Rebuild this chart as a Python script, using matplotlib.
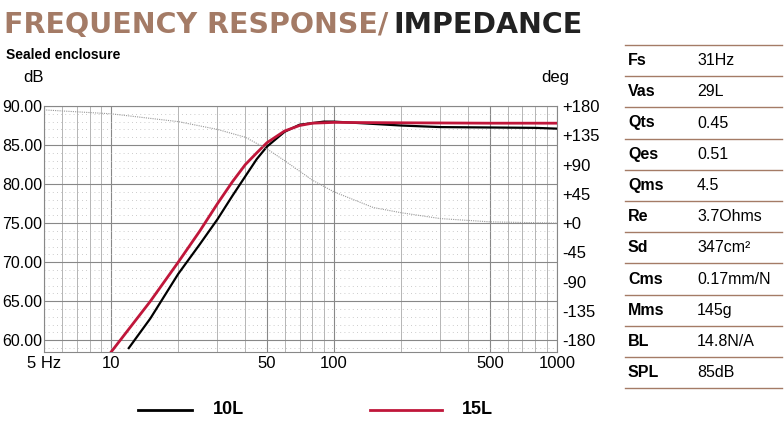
import matplotlib.pyplot as plt
import matplotlib.ticker as mt

freq_red = [10, 15, 20, 25, 30, 35, 40, 45, 50, 60, 70, 80, 100, 200, 500, 1000]
spl_15l = [58.5, 65.0, 70.0, 74.0, 77.5, 80.3, 82.5, 84.0, 85.3, 86.8, 87.5, 87.8, 87.9, 87.85, 87.8, 87.8]
freq_blk = [12, 15, 20, 25, 30, 35, 40, 45, 50, 60, 70, 90, 100, 200, 300, 500, 800, 1000]
spl_10l = [59.0, 62.8, 68.5, 72.3, 75.5, 78.5, 81.0, 83.2, 84.8, 86.7, 87.6, 88.0, 88.0, 87.5, 87.3, 87.25, 87.2, 87.1]
freq_ph = [5, 10, 20, 30, 40, 50, 60, 80, 100, 150, 200, 300, 500, 1000]
phase = [174, 168, 156, 144, 132, 114, 96, 66, 48, 24, 16, 7, 2, 0]

params = ["Fs", "Vas", "Qts", "Qes", "Qms", "Re", "Sd", "Cms", "Mms", "BL", "SPL"]
values = ["31Hz", "29L", "0.45", "0.51", "4.5", "3.7Ohms", "347cm²", "0.17mm/N", "145g", "14.8N/A", "85dB"]

plt.rcParams["font.family"] = ["Liberation Sans", "DejaVu Sans"]
brown = "#a47b66"
fig = plt.figure(figsize=(7.84, 4.21), dpi=100)
ax = fig.add_axes([44/784, 1-352/421, 513/784, 246/421])
ax.set_xscale("log")
ax.set_xlim(5, 1000)
ax.set_ylim(58.5, 90)
ax.set_xticks([5, 10, 50, 100, 500, 1000])
ax.set_xticklabels(["5 Hz", "10", "50", "100", "500", "1000"])
ax.xaxis.set_minor_locator(mt.LogLocator(subs=range(2, 10)))
ax.xaxis.set_minor_formatter(mt.NullFormatter())
ax.set_yticks([60, 65, 70, 75, 80, 85, 90])
ax.set_yticklabels(["%.2f" % v for v in [60, 65, 70, 75, 80, 85, 90]])
ax.yaxis.set_minor_locator(mt.MultipleLocator(1))
ax.grid(which="major", color="#888888", lw=0.8)
ax.grid(which="minor", axis="x", color="#aaaaaa", lw=0.6)
ax.grid(which="minor", axis="y", color="#bbbbbb", lw=0.6, ls=(0, (1, 4)))
ax.tick_params(axis="y", length=0, labelsize=11.5, which="both", pad=1)
ax.tick_params(axis="x", length=0, labelsize=12, which="both", pad=3)
for s in ax.spines.values():
    s.set_color("#888888")

ax2 = ax.twinx()
ax2.set_ylim((58.5 - 75) * 12, 180)
ax2.set_yticks(range(-180, 181, 45))
ax2.set_yticklabels([("+%d" % v if v >= 0 else "%d" % v) for v in range(-180, 181, 45)])
ax2.tick_params(length=0, labelsize=12)
ax2.plot(freq_ph, phase, color="#999999", lw=0.8, ls=(0, (1, 1)))
for s in ax2.spines.values():
    s.set_visible(False)

ax.plot(freq_blk, spl_10l, color="black", lw=1.6, zorder=3)
ax.plot(freq_red, spl_15l, color="#c0163a", lw=2, zorder=4)

fig.text(0.005, 0.975, "FREQUENCY RESPONSE/", color=brown, fontsize=20.5, fontweight="bold", va="top", family="DejaVu Sans")
fig.text(0.502, 0.975, "IMPEDANCE", color="#222222", fontsize=20.5, fontweight="bold", va="top", family="DejaVu Sans")
fig.text(0.008, 0.87, "Sealed enclosure", fontsize=10, fontweight="bold", va="center")
fig.text(0.03, 0.815, "dB", fontsize=12, va="center")
fig.text(0.69, 0.815, "deg", fontsize=12, va="center")

fig.lines.append(plt.Line2D([138/784, 192/784], [11/421, 11/421], color="black", lw=2, transform=fig.transFigure))
fig.text(213/784, 11/421, "10L", fontsize=13, fontweight="bold", va="center")
fig.lines.append(plt.Line2D([370/784, 442/784], [11/421, 11/421], color="#c0163a", lw=2, transform=fig.transFigure))
fig.text(462/784, 11/421, "15L", fontsize=13, fontweight="bold", va="center")

top, step = 45, 31.2
for i in range(len(params) + 1):
    y = 1 - (top + i * step) / 421
    fig.lines.append(plt.Line2D([625/784, 782/784], [y, y], color=brown, lw=1, transform=fig.transFigure))
for i, (p, v) in enumerate(zip(params, values)):
    y = 1 - (top + (i + 0.5) * step) / 421
    fig.text(628/784, y, p, fontsize=11.5, fontweight="bold", va="center")
    fig.text(697/784, y, v, fontsize=11.5, va="center")

fig.savefig("out.png")
